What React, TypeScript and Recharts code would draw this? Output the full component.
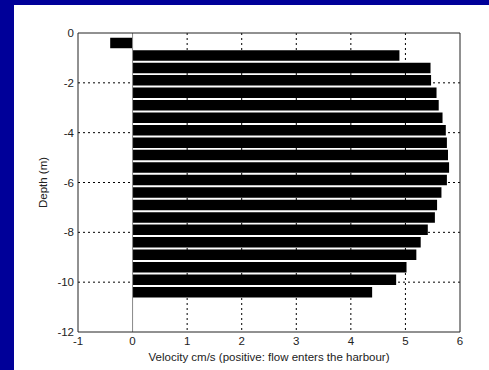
import React from "react"
import { BarChart, Bar, XAxis, YAxis, CartesianGrid, ReferenceLine, Label } from "recharts"

// depth of each bin (m) and mean velocity (cm/s, positive = into the harbour)
const depths = [-0.4, -0.9, -1.4, -1.9, -2.4, -2.9, -3.4, -3.9, -4.4, -4.9, -5.4, -5.9, -6.4, -6.9, -7.4, -7.9, -8.4, -8.9, -9.4, -9.9, -10.4]
const velocities = [-0.41, 4.89, 5.46, 5.47, 5.57, 5.61, 5.68, 5.74, 5.76, 5.78, 5.8, 5.76, 5.66, 5.58, 5.54, 5.41, 5.28, 5.2, 5.02, 4.83, 4.39]

const xTicks = [-1, 0, 1, 2, 3, 4, 5, 6]
const yTicks = [-12, -10, -8, -6, -4, -2, 0]
// inner grid lines only (the box edges are drawn separately)
const xGrid = [1, 2, 3, 4, 5]
const yGrid = [-10, -8, -6, -4, -2]

const data = depths.map((d, i) => ({ depth: d, v: velocities[i] }))

const font = { fontFamily: "'Liberation Sans', Arial, sans-serif", fontSize: 11.5, fill: "#222" }
const box = { stroke: "#222", strokeWidth: 1 }

export default function App() {
  return (
    <div style={{ position: "fixed", left: 0, top: 0, width: 489, height: 370, background: "#000099" }}>
      <div style={{ position: "absolute", left: 14, top: 5, width: 475, height: 365, background: "#fff" }}>
        <BarChart
          width={475}
          height={365}
          data={data}
          layout="vertical"
          margin={{ top: 28, right: 29, left: 0, bottom: 0 }}
        >
          <CartesianGrid stroke="#000" strokeDasharray="2 3" strokeWidth={1} horizontalValues={yGrid} verticalValues={xGrid} />
          <XAxis
            type="number"
            dataKey="v"
            domain={[-1, 6]}
            ticks={xTicks}
            allowDataOverflow
            axisLine={box}
            tickLine={false}
            tickSize={3}
            tickMargin={2}
            height={38}
            tick={font}
          >
            <Label
              value="Velocity cm/s (positive: flow enters the harbour)"
              position="insideBottom"
              offset={9}
              style={font}
            />
          </XAxis>
          <YAxis
            type="number"
            dataKey="depth"
            domain={[-12, 0]}
            ticks={yTicks}
            reversed
            allowDataOverflow
            axisLine={box}
            tickLine={false}
            tickSize={3}
            tickMargin={1}
            width={64}
            tick={font}
          >
            <Label
              content={(props: any) => {
                const vb = props.viewBox || {}
                const cx = (vb.x || 0) + 28.5
                const cy = (vb.y || 0) + (vb.height || 0) / 2
                return (
                  <text x={cx} y={cy} transform={`rotate(-90, ${cx}, ${cy})`} textAnchor="middle" dominantBaseline="central" style={font}>
                    Depth (m)
                  </text>
                )
              }}
            />
          </YAxis>
          <Bar dataKey="v" fill="#000" barSize={10.5} isAnimationActive={false} />
          <ReferenceLine x={0} stroke="#888" strokeWidth={1} />
          <ReferenceLine y={0} {...box} />
          <ReferenceLine x={6} {...box} />
        </BarChart>
      </div>
    </div>
  )
}
